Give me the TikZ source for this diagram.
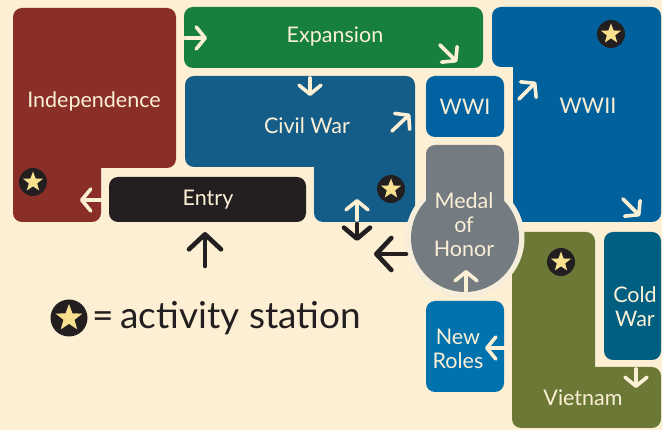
\documentclass[tikz,border=0pt]{standalone}
\usepackage{fontspec}
\setmainfont{Lato}
\usetikzlibrary{arrows.meta,shapes.geometric,positioning}

\definecolor{paper}{HTML}{FDEFD3}
\definecolor{ring}{HTML}{F6EEDA}
\definecolor{cream}{HTML}{FBF0D6}
\definecolor{ink}{HTML}{231F20}
\definecolor{indep}{HTML}{892F27}
\definecolor{expan}{HTML}{17803F}
\definecolor{civil}{HTML}{155D89}
\definecolor{wwone}{HTML}{0062A0}
\definecolor{wwtwo}{HTML}{00619C}
\definecolor{medal}{HTML}{747B81}
\definecolor{roles}{HTML}{0073AE}
\definecolor{viet}{HTML}{6C7835}
\definecolor{cold}{HTML}{005E80}
\definecolor{staryel}{HTML}{F8E08E}

\tikzset{
  room/.style={rounded corners=9pt},
  roomtext/.style={text=cream,font=\fontsize{21.5}{24}\selectfont,align=center,inner sep=0pt},
  flow/.style={draw=cream,line width=3.6pt,line cap=round,
    -{Straight Barb[length=9pt,width=22pt,line cap=round,line join=round]}},
  walk/.style={draw=ink,line width=4.6pt,line cap=round,
    -{Straight Barb[length=15pt,width=32pt,line cap=round,line join=round]}},
  station/.style={circle,fill=ink,minimum size=28pt,inner sep=0pt},
  starmark/.style={star,star points=5,star point ratio=2.4,fill=staryel,
    minimum size=21pt,inner sep=0pt}
}

\begin{document}
\begin{tikzpicture}[x=1pt,y=-1pt]

\fill[paper] (0,0) rectangle (662,430);% background and page size

% rooms (L-shapes are two rounded boxes)
\fill[indep,room] (13,8) rectangle (176,168) (13,100) rectangle (101,222);
\fill[expan,room] (184,7) rectangle (483,68);
\fill[civil,room] (185,76) rectangle (415,167) (314,100) rectangle (415,222);
\fill[ink,room] (109,177) rectangle (306,222);
\fill[wwone,room] (426,76) rectangle (504,137);
\fill[wwtwo,room] (492,7) rectangle (661,67) (513,7) rectangle (661,222);
\fill[viet,room] (512,232) rectangle (595,428) (512,367) rectangle (661,428);
\fill[cold,room] (604,232) rectangle (661,360);
\fill[roles,room] (426,301) rectangle (504,392);

% medal of honor
\fill[ring] (465,238) circle (59.5);
\fill[medal] (465,238) circle (54);
\fill[medal,room] (426,145) rectangle (504,238);

% labels
\node[roomtext] (Indep) at (94,101) {Independence};
\node[roomtext] (Expan) at (335,37) {Expansion};
\node[roomtext] (Civil) at (307,126) {Civil War};
\node[roomtext] (Entry) at (208,200) {Entry};
\node[roomtext] (WWone) at (465,107) {WWI};
\node[roomtext] (WWtwo) at (588,106) {WWII};
\node[roomtext] (Medal) at (464,225) {Medal\\of\\Honor};
\node[roomtext] (Roles) at (458,349) {New\\Roles};
\node[roomtext] (Cold) at (635,307) {Cold\\War};
\node[roomtext] (Viet) at (583,398) {Vietnam};

% activity stations
\foreach \name/\pos in {IndepStar/{(33,182)},CivilStar/{(391,189)},WWtwoStar/{(611,34)},VietStar/{(561,262)}}{
  \node[station] (\name) at \pos {};
  \node[starmark] at (\name) {};
}

% arrow ends
\coordinate (EntryOut)  at (103,200);
\coordinate (IndepIn)   at (80,200);
\coordinate (ExpanIn)   at (185,38);
\coordinate (ExpanTip)  at (207,38);
\coordinate (ExpanOut)  at (440,45);
\coordinate (ExpanEnd)  at (457,62);
\coordinate (CivilIn)   at (310,78);
\coordinate (CivilTip)  at (310,96);
\coordinate (CivilOut)  at (392,131);
\coordinate (CivilEnd)  at (410,114);
\coordinate (CivilBack) at (357,220);
\coordinate (CivilUp)   at (357,199);
\coordinate (HallTop)   at (357,224);
\coordinate (HallDown)  at (357,241);
\coordinate (MedalOut)  at (406,254);
\coordinate (HallLeft)  at (374,254);
\coordinate (Door)      at (205,266);
\coordinate (DoorTip)   at (205,232);
\coordinate (WWtwoIn)   at (519,99);
\coordinate (WWtwoTip)  at (536,82);
\coordinate (WWtwoOut)  at (623,199);
\coordinate (WWtwoEnd)  at (640,216);
\coordinate (RolesOut)  at (466,291);
\coordinate (MedalIn)   at (466,270);
\coordinate (VietOut)   at (506,348);
\coordinate (RolesIn)   at (485,348);
\coordinate (ColdOut)   at (636,369);
\coordinate (VietIn)    at (636,388);

\draw[flow] (EntryOut) -- (IndepIn);
\draw[flow] (ExpanIn) -- (ExpanTip);
\draw[flow] (ExpanOut) -- (ExpanEnd);
\draw[flow] (CivilIn) -- (CivilTip);
\draw[flow] (CivilOut) -- (CivilEnd);
\draw[flow] (CivilBack) -- (CivilUp);
\draw[flow] (WWtwoIn) -- (WWtwoTip);
\draw[flow] (WWtwoOut) -- (WWtwoEnd);
\draw[flow] (RolesOut) -- (MedalIn);
\draw[flow] (VietOut) -- (RolesIn);
\draw[flow] (ColdOut) -- (VietIn);

\draw[walk,-{Straight Barb[length=11pt,width=26pt,line cap=round,line join=round]}] (HallTop) -- (HallDown);
\draw[walk] (MedalOut) -- (HallLeft);
\draw[walk] (Door) -- (DoorTip);

% legend
\node[station,minimum size=37pt] (KeyStar) at (69,318) {};
\node[starmark,minimum size=28pt] at (KeyStar) {};
\node[text=ink,font=\fontsize{37}{40}\selectfont,anchor=west,inner sep=0pt,right=5pt of KeyStar] (Key) {=\,activity station};

\end{tikzpicture}
\end{document}
